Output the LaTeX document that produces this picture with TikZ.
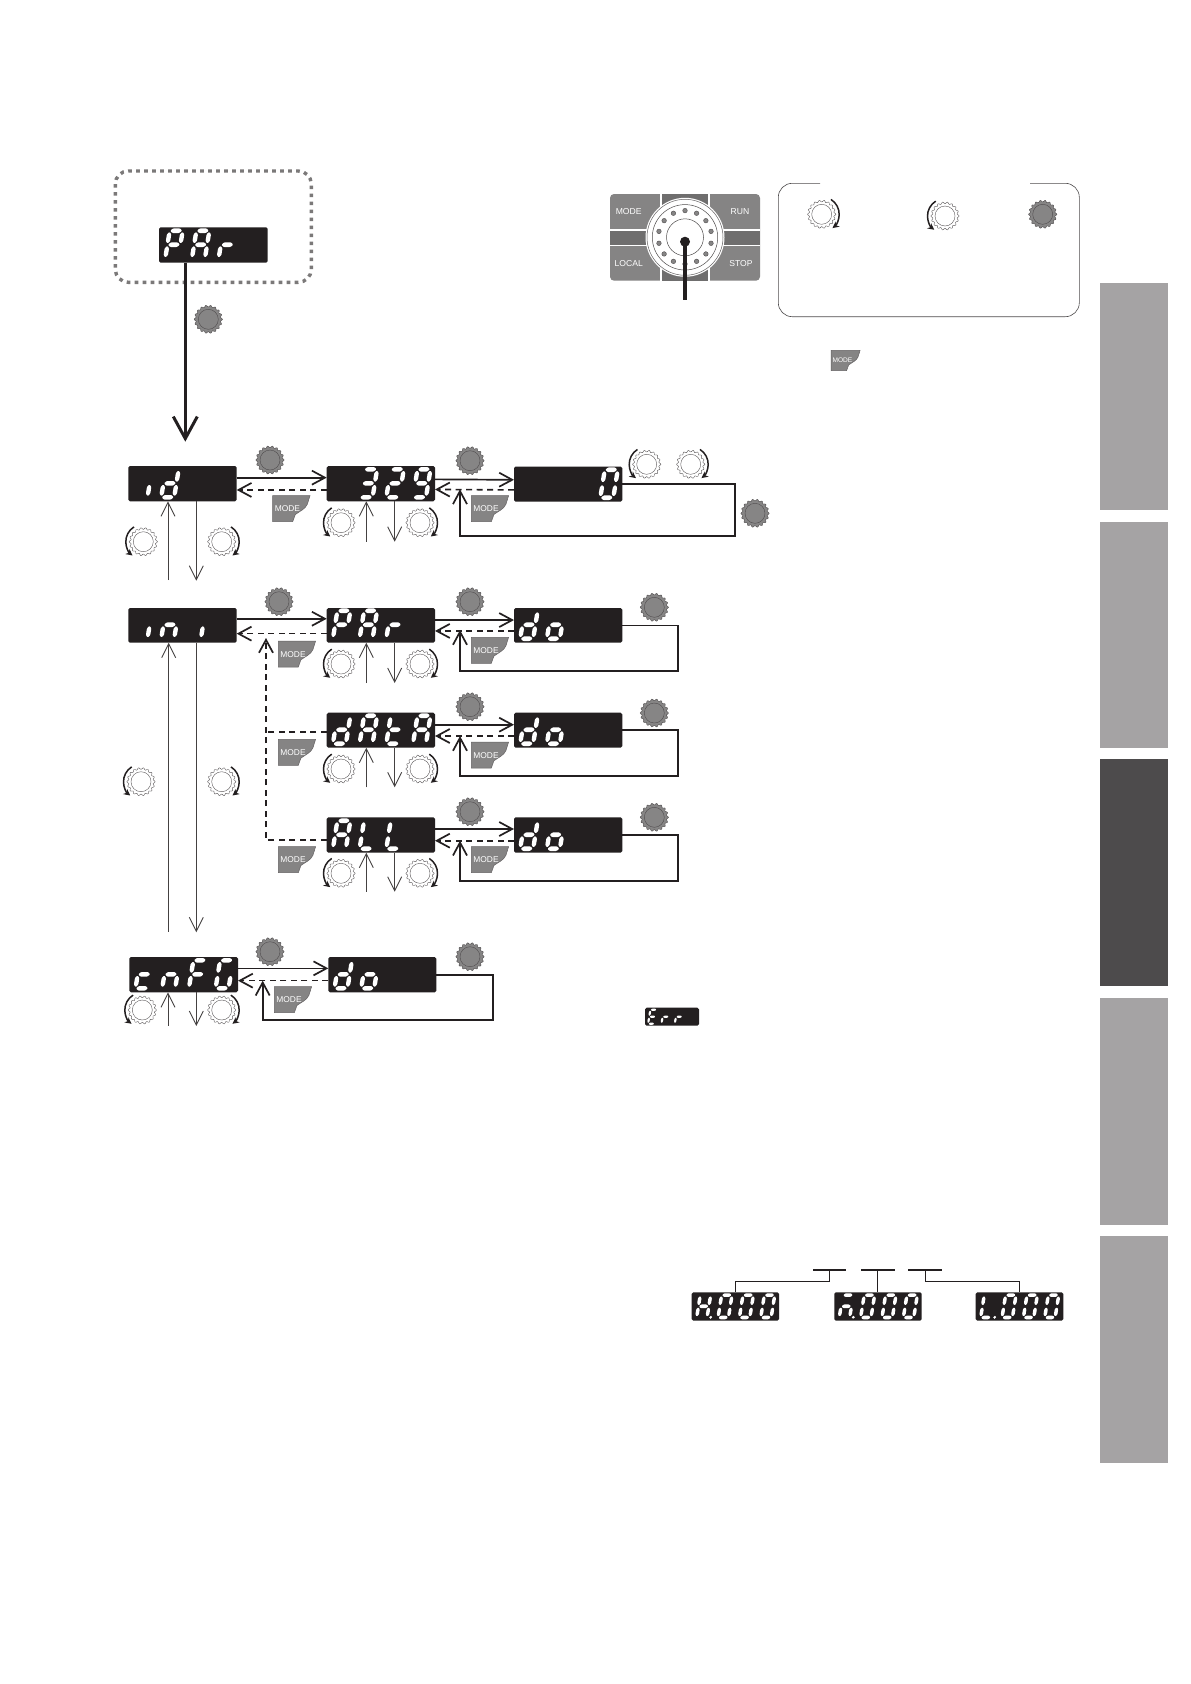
\documentclass[tikz,border=0pt]{standalone}
\usepackage{fontspec}
\setmainfont{Liberation Sans}
\usetikzlibrary{arrows.meta,calc}
\definecolor{ink}{HTML}{231F20}
\definecolor{keygray}{HTML}{858484}
\definecolor{knobgray}{HTML}{868585}
\definecolor{bandgray}{HTML}{6F6E6E}
\definecolor{tabgray}{HTML}{A5A3A4}
\definecolor{tabdark}{HTML}{4D4B4C}
\tikzset{
  dispbox/.style={fill=ink,rounded corners=1.6pt,inner sep=0pt,outer sep=0pt},
  fwd/.style={draw=ink,line width=1.7pt,-{Straight Barb[length=13pt,width=14pt,line width=1.7pt]}},
  back/.style={draw=ink,line width=1.6pt,dash pattern=on 6pt off 4.5pt,-{Straight Barb[length=13pt,width=14pt,line width=1.7pt]}},
  backplain/.style={draw=ink,line width=1.6pt,dash pattern=on 6pt off 4.5pt},
  loopline/.style={draw=ink,line width=1.7pt,-{Straight Barb[length=13pt,width=14pt,line width=1.7pt]}},
  updown/.style={draw=ink!85,line width=0.9pt,-{Straight Barb[length=14pt,width=14pt,line width=0.9pt]}},
  leader/.style={draw=ink,line width=0.8pt},
  tabbox/.style={inner sep=0pt,outer sep=0pt,minimum width=68pt,minimum height=226.7pt},
  keylabel/.style={text=white,inner sep=0pt,font=\fontsize{8.6}{9}\selectfont}
}
% seven segment glyphs, local frame: width 13, height 28, y up
\newcommand\hsegm[1]{\fill[white,rounded corners=0.8pt] (0.6,#1)--(3,#1+2.3)--(10,#1+2.3)--(12.4,#1)--(10,#1-2.3)--(3,#1-2.3)--cycle;}
\newcommand\vsegm[3]{\fill[white,rounded corners=0.8pt] (#1,#2)--(#1+2.2,#2+2.4)--(#1+2.2,#3-2.4)--(#1,#3)--(#1-2.2,#3-2.4)--(#1-2.2,#2+2.4)--cycle;}
\expandafter\def\csname sga\endcsname{\hsegm{28}}
\expandafter\def\csname sgg\endcsname{\hsegm{14}}
\expandafter\def\csname sgd\endcsname{\hsegm{0}}
\expandafter\def\csname sgf\endcsname{\vsegm{0}{15.2}{26.8}}
\expandafter\def\csname sgb\endcsname{\vsegm{13}{15.2}{26.8}}
\expandafter\def\csname sge\endcsname{\vsegm{0}{1.2}{12.8}}
\expandafter\def\csname sgc\endcsname{\vsegm{13}{1.2}{12.8}}
\expandafter\def\csname sgh\endcsname{\fill[white] (17.5,0.3) circle (1.9);}
\def\segloop#1{\ifx#1\relax\else\csname sg#1\endcsname\expandafter\segloop\fi}
% \disp{name}{x0}{y0}{x1}{y1}{scale}{index/segments,...}
\newcommand\disp[7]{%
  \node[dispbox,minimum width={(#4-#2)*1pt},minimum height={(#5-#3)*1pt}] (#1) at ({(#2+#4)/2},{(#3+#5)/2}) {};
  \foreach \di/\ds in {#7}{%
    \pgfmathsetmacro\ox{#2+(6.2+26.7*\di)*#6}
    \pgfmathsetmacro\oy{#5-4*#6}
    \begin{scope}[shift={(\ox,\oy)},xslant=0.16,scale=#6,x=1pt,y=1pt]
      \expandafter\segloop\ds\relax
    \end{scope}
  }%
}
\newcommand\knobshape[2]{%
  \draw[draw=#2,line width=0.4pt,fill=#1] plot[domain=0:360,samples=109,variable=\t] (\t:{13.2+0.9*cos(18*\t)}) -- cycle;
  \draw[draw=#2,line width=0.4pt] (0,0) circle (10);
}
\newcommand\gknob[2]{\begin{scope}[shift={(#1,#2)},x=1pt,y=1pt]\knobshape{knobgray}{ink!80}\end{scope}}
\newcommand\wknob[3]{\begin{scope}[shift={(#1,#2)},x=1pt,y=1pt]\knobshape{white}{ink!75}
  \ifnum#3=1
    \draw[ink,line width=1.5pt,-{Stealth[length=6.5pt,width=6.5pt]}] (58:17.5) arc (58:-52:17.5);
  \else
    \draw[ink,line width=1.5pt,-{Stealth[length=6.5pt,width=6.5pt]}] (122:17.5) arc (122:232:17.5);
  \fi
\end{scope}}
% \modekey{name}{x}{y}{scale}{font size}
\newcommand\modekey[5]{\begin{scope}[shift={(#2,#3)},scale=#4]
  \fill[keygray,draw=ink!70,line width=0.5pt] (0,0)--(37.3,0)--(34.6,8.6) .. controls (32.5,13.5) and (27,15.5) .. (22.6,18.8)--(20,26)--(0,26)--cycle;
  \node[text=white,inner sep=0pt,font=\fontsize{#5}{#5}\selectfont] (#1) at (14.7,13.3) {MODE};
\end{scope}}
\begin{document}
\begin{tikzpicture}[x=1pt,y=-1pt]
\useasboundingbox (0,0) rectangle (1191,1684);
\fill[white] (0,0) rectangle (1191,1684);
% side tabs
\node[tabbox,fill=tabgray] (tabA) at (1134,396.3) {};
\node[tabbox,fill=tabgray] (tabB) at (1134,635) {};
\node[tabbox,fill=tabdark] (tabC) at (1134,872.7) {};
\node[tabbox,fill=tabgray] (tabD) at (1134,1111.5) {};
\node[tabbox,fill=tabgray] (tabE) at (1134,1349.5) {};
% dotted frame
\draw[draw=ink!60,line width=3.4pt,dash pattern=on 3.6pt off 4.4pt,rounded corners=13pt] (115.3,171) rectangle (311.3,282.3);
\disp{topP}{159}{227.3}{267.7}{262.7}{1}{0/abefg,1/abcefg,2/eg}
\gknob{208.3}{319.3}
\coordinate (mainEnd) at (185.3,441.7);
\draw[ink,line width=3pt,-{Straight Barb[length=22pt,width=24pt,line width=3pt]}] (mainEnd |- topP.south) -- (mainEnd);
% key panel
\begin{scope}
  \fill[keygray,rounded corners=4pt] (610,194) rectangle (760,280.7);
  \fill[bandgray] (661,194) rectangle (709,280.7);
  \fill[bandgray] (610,230) rectangle (760,245.3);
  \draw[white,line width=1.2pt] (661,194)--(661,230) (709,194)--(709,230) (661,245.3)--(661,280.7) (709,245.3)--(709,280.7);
  \draw[white,line width=1.2pt] (610,230)--(661,230) (709,230)--(760,230) (610,245.3)--(661,245.3) (709,245.3)--(760,245.3);
  \fill[white] (685,237.3) circle (39.5);
  \draw[ink!70,line width=0.5pt] (685,237.3) circle (38);
  \draw[ink!80,line width=0.5pt] (685,237.3) circle (32.7);
  \draw[ink!80,line width=0.5pt] (685,237.3) circle (18.5);
  \foreach \a in {0,...,13}{\fill[knobgray,draw=ink!80,line width=0.4pt] ($(685,237.3)+({90+\a*360/14}:26.7)$) circle (2.3);}
\end{scope}
\node[keylabel] (kMode) at (628.7,211.7) {MODE};
\node[keylabel] (kRun) at (740,211.7) {RUN};
\node[keylabel] (kLocal) at (628.7,263.7) {LOCAL};
\node[keylabel] (kStop) at (741,263.7) {STOP};
\fill[ink] (685,241.7) circle (5);
\draw[ink,line width=3.6pt] (685,241.7) -- (685,300);
% legend frame
\draw[draw=ink!80,line width=0.6pt,rounded corners=14pt] (820,183.3) -- (778.3,183.3) -- (778.3,316.7) -- (1079.3,316.7) -- (1079.3,183.3) -- (1030,183.3);
\wknob{821.7}{214.3}{1}
\wknob{945}{216}{2}
\gknob{1042.7}{214.3}
\modekey{mkTop}{831}{350.3}{0.78}{6.6}
% row 1
\disp{rId}{128.3}{466}{236.7}{501.3}{1}{0/c,1/bcdeg}
\disp{r329}{326.7}{466}{435}{501.3}{1}{1/abcdg,2/abdeg,3/abcdfg}
\disp{rZero}{514}{466.5}{622.3}{501.7}{1}{3/abcdef}
% row 2
\disp{rIni}{128.3}{608}{236.7}{642.7}{1}{0/c,1/ceg,2/c}
\disp{rPar}{326.7}{608}{435}{642.7}{1}{0/abefg,1/abcefg,2/eg}
\disp{rDoA}{514}{608}{622.3}{642.7}{1}{0/bcdeg,1/cdeg}
% row 3
\disp{rData}{326.7}{712.7}{435}{747.7}{1}{0/bcdeg,1/abcefg,2/defg,3/abcefg}
\disp{rDoB}{514}{712.7}{622.3}{747.7}{1}{0/bcdeg,1/cdeg}
% row 4
\disp{rAll}{326.7}{817.3}{435}{852.7}{1}{0/abcefg,1/def,2/def}
\disp{rDoC}{514}{817.3}{622.3}{852.7}{1}{0/bcdeg,1/cdeg}
% row 5
\disp{rCnf}{129.3}{957}{238}{992.3}{1}{0/deg,1/ceg,2/aefg,3/acdef}
\disp{rDoD}{328.3}{957}{436.3}{992.3}{1}{0/bcdeg,1/cdeg}
% Err
\disp{rErr}{645}{1007.7}{699}{1025.7}{0.5}{0/adefg,1/eg,2/eg}
% triple display
\disp{rH}{691.7}{1292.3}{779}{1320.7}{0.8}{0/bcefgh,1/abcdef,2/abcdef,3/abcdef}
\disp{rM}{834.3}{1292.3}{921.7}{1320.7}{0.8}{0/acegh,1/abcdef,2/abcdef,3/abcdef}
\disp{rL}{975.7}{1292.3}{1063.3}{1320.7}{0.8}{0/efdh,1/abcdef,2/abcdef,3/abcdef}
% gray knobs
\gknob{270}{460}\gknob{470}{460.7}\gknob{755}{513.3}
\gknob{279}{601.7}\gknob{470}{601.7}\gknob{654.3}{607.3}
\gknob{470}{706.7}\gknob{654.3}{713}
\gknob{470}{811.7}\gknob{654.3}{817.3}
\gknob{270}{951.7}\gknob{470}{956.7}
% white knobs
\wknob{143.3}{541.7}{2}\wknob{221.7}{541.7}{1}
\wknob{341}{522.7}{2}\wknob{420}{522.7}{1}
\wknob{646.7}{464.3}{2}\wknob{690.7}{464.3}{1}
\wknob{341}{664}{2}\wknob{420}{664}{1}
\wknob{141}{781.7}{2}\wknob{221.7}{781.7}{1}
\wknob{341}{769}{2}\wknob{420}{769}{1}
\wknob{341}{873.3}{2}\wknob{420}{873.3}{1}
\wknob{142.3}{1010}{2}\wknob{221.7}{1010}{1}
% MODE keys
\modekey{mkA}{272.7}{495.7}{1}{8.4}
\modekey{mkB}{471.3}{495.7}{1}{8.4}
\modekey{mkC}{278.3}{641}{1}{8.4}
\modekey{mkD}{471.3}{637.3}{1}{8.4}
\modekey{mkE}{278.3}{739.3}{1}{8.4}
\modekey{mkF}{471.3}{742}{1}{8.4}
\modekey{mkG}{278.3}{846.7}{1}{8.4}
\modekey{mkH}{471.3}{846.7}{1}{8.4}
\modekey{mkI}{274.3}{986.7}{1}{8.4}
% horizontal arrows
\draw[fwd] ([yshift=6pt]rId.east) -- ([yshift=6pt]r329.west);
\draw[back] ([yshift=-6.3pt]r329.west) -- ([yshift=-6.3pt]rId.east);
\draw[fwd] ([yshift=4.3pt]r329.east) -- ([yshift=4.3pt]rZero.west);
\draw[back] ([yshift=-5.8pt]rZero.west) -- ([yshift=-5.8pt]r329.east);
\draw[fwd] ([yshift=6.6pt]rIni.east) -- ([yshift=6.6pt]rPar.west);
\draw[back] ([yshift=-8.3pt]rPar.west) -- ([yshift=-8.3pt]rIni.east);
\draw[fwd] ([yshift=5.3pt]rPar.east) -- ([yshift=5.3pt]rDoA.west);
\draw[back] ([yshift=-5.6pt]rDoA.west) -- ([yshift=-5.6pt]rPar.east);
\draw[fwd] ([yshift=5.5pt]rData.east) -- ([yshift=5.5pt]rDoB.west);
\draw[back] ([yshift=-5.8pt]rDoB.west) -- ([yshift=-5.8pt]rData.east);
\draw[fwd] ([yshift=6pt]rAll.east) -- ([yshift=6pt]rDoC.west);
\draw[back] ([yshift=-5.7pt]rDoC.west) -- ([yshift=-5.7pt]rAll.east);
\draw[fwd] ([yshift=6.3pt]rCnf.east) -- ([yshift=6.3pt]rDoD.west);
\draw[back] ([yshift=-6pt]rDoD.west) -- ([yshift=-6pt]rCnf.east);
% dashed returns to first column
\coordinate (iniTip) at (266,638);
\coordinate (dataJoin) at (266,731.7);
\draw[back] ([yshift=-5pt]rAll.west) -| (iniTip);
\draw[backplain] ([yshift=-1.5pt]rData.west) -- (dataJoin);
% loops
\coordinate (loopA) at (735.3,535.7); \coordinate (tipA) at (460,489.3);
\draw[loopline] (rZero.east) -| (loopA) -| (tipA);
\coordinate (loopB) at (678,670.7); \coordinate (tipB) at (460,630);
\draw[loopline] (rDoA.east) -| (loopB) -| (tipB);
\coordinate (loopC) at (678,776); \coordinate (tipC) at (460,736);
\draw[loopline] (rDoB.east) -| (loopC) -| (tipC);
\coordinate (loopD) at (678,880.7); \coordinate (tipD) at (460,840.7);
\draw[loopline] (rDoC.east) -| (loopD) -| (tipD);
\coordinate (loopE) at (493.3,1020); \coordinate (tipE) at (262.7,980.7);
\draw[loopline] (rDoD.east) -| (loopE) -| (tipE);
% vertical arrows
\coordinate (a1) at (168,580); \draw[updown] (a1) -- (a1 |- rId.south);
\coordinate (a2) at (196.3,580.7); \draw[updown] (a2 |- rId.south) -- (a2);
\coordinate (a3) at (366.3,541.7); \draw[updown] (a3) -- (a3 |- r329.south);
\coordinate (a4) at (394.7,541.7); \draw[updown] (a4 |- r329.south) -- (a4);
\coordinate (a5) at (168.7,931.7); \draw[updown] (a5) -- (a5 |- rIni.south);
\coordinate (a6) at (196.3,932.3); \draw[updown] (a6 |- rIni.south) -- (a6);
\coordinate (a7) at (366.3,683); \draw[updown] (a7) -- (a7 |- rPar.south);
\coordinate (a8) at (394.7,683); \draw[updown] (a8 |- rPar.south) -- (a8);
\coordinate (a9) at (366.3,787.3); \draw[updown] (a9) -- (a9 |- rData.south);
\coordinate (a10) at (394.7,787.3); \draw[updown] (a10 |- rData.south) -- (a10);
\coordinate (a11) at (366.3,891.7); \draw[updown] (a11) -- (a11 |- rAll.south);
\coordinate (a12) at (394.7,891.7); \draw[updown] (a12 |- rAll.south) -- (a12);
\coordinate (a13) at (168,1025.7); \draw[updown] (a13) -- (a13 |- rCnf.south);
\coordinate (a14) at (196.3,1026); \draw[updown] (a14 |- rCnf.south) -- (a14);
% overlines and leaders
\coordinate (oA1) at (813,1270); \coordinate (oA2) at (845.7,1270);
\coordinate (oB1) at (861,1270); \coordinate (oB2) at (895,1270);
\coordinate (oC1) at (908,1270); \coordinate (oC2) at (942,1270);
\draw[ink,line width=1.6pt] (oA1) -- (oA2) (oB1) -- (oB2) (oC1) -- (oC2);
\coordinate (lA) at (829.7,1270); \coordinate (lAb) at (735.3,1281.3);
\draw[leader] (lA) |- (lAb) -- (lAb |- rH.north);
\coordinate (lB) at (877.3,1270);
\draw[leader] (lB) -- (lB |- rM.north);
\coordinate (lC) at (925.7,1270); \coordinate (lCb) at (1019.7,1281.3);
\draw[leader] (lC) |- (lCb) -- (lCb |- rL.north);
\end{tikzpicture}
\end{document}
